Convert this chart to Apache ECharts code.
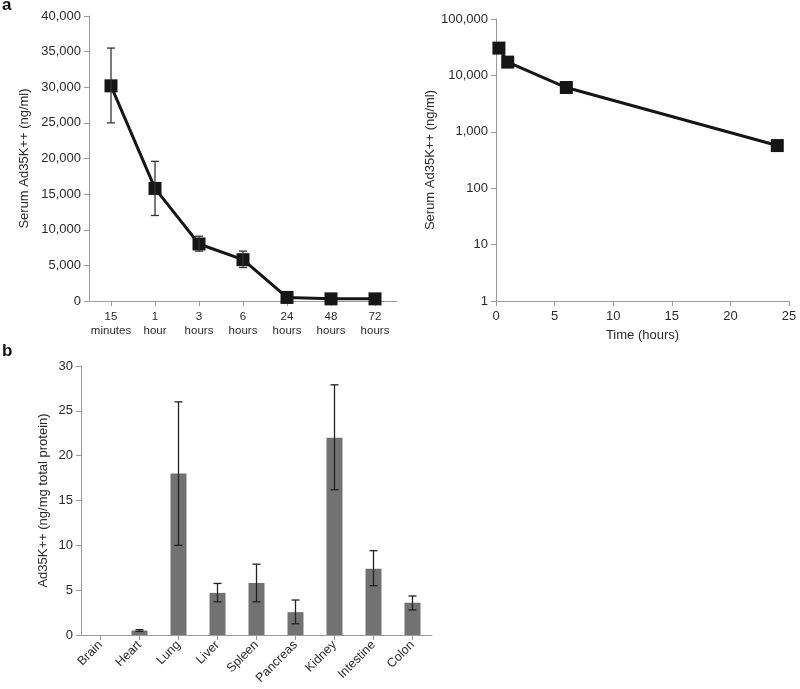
<!DOCTYPE html>
<html><head><meta charset="utf-8">
<script src="https://cdn.jsdelivr.net/npm/echarts@6/dist/echarts.min.js"></script>
<style>html,body{margin:0;padding:0;background:#fff}#c{width:800px;height:689px}</style>
</head><body><div id="c"></div>
<script>
// Panel a (left): serum concentration over time
const timeCategories = ['15\nminutes', '1\nhour', '3\nhours', '6\nhours', '24\nhours', '48\nhours', '72\nhours'];
const serumMean = [30200, 15800, 8000, 5800, 500, 300, 300];
const serumLow  = [25000, 12000, 7000, 4700, null, null, null];
const serumHigh = [35500, 19600, 9100, 7000, null, null, null];

// Panel a (right): log-scale vs hours
const hoursX = [0.25, 1, 6, 24];
const serumLogY = [30500, 17200, 6100, 570];

// Panel b: tissue distribution
const tissues = ['Brain', 'Heart', 'Lung', 'Liver', 'Spleen', 'Pancreas', 'Kidney', 'Intestine', 'Colon'];
const tissueMean = [0, 0.5, 18, 4.7, 5.8, 2.55, 22, 7.4, 3.6];
const tissueLow  = [null, 0.4, 10, 3.7, 3.7, 1.25, 16.2, 5.5, 2.8];
const tissueHigh = [null, 0.6, 26, 5.75, 7.9, 3.9, 27.9, 9.4, 4.35];

const FONT = '"Liberation Sans", Arial, sans-serif';
const TXT = '#2a2a2a';
const AX = '#9a9a9a';
function comma(v){ return String(Math.round(v)).replace(/\B(?=(\d{3})+(?!\d))/g, ','); }

function errSeries(xAxisIndex, yAxisIndex, items, cap, color){
  return {
    type: 'custom', xAxisIndex, yAxisIndex, z: 5,
    data: items,
    renderItem: function(params, api){
      const x = api.value(0), lo = api.value(1), hi = api.value(2);
      const p1 = api.coord([x, lo]), p2 = api.coord([x, hi]);
      const st = {stroke: color, lineWidth: 1.3};
      return {type: 'group', children: [
        {type: 'line', shape: {x1: p1[0], y1: p1[1], x2: p2[0], y2: p2[1]}, style: st},
        {type: 'line', shape: {x1: p1[0]-cap, y1: p1[1], x2: p1[0]+cap, y2: p1[1]}, style: st},
        {type: 'line', shape: {x1: p2[0]-cap, y1: p2[1], x2: p2[0]+cap, y2: p2[1]}, style: st}
      ]};
    }
  };
}

const errA = [];
serumLow.forEach((l, i) => { if (l !== null) errA.push([i, l, serumHigh[i]]); });
const errB = [];
tissueLow.forEach((l, i) => { if (l !== null) errB.push([i, l, tissueHigh[i]]); });

const axisLine = {show: true, lineStyle: {color: AX, width: 1}};
const axisTick = {show: true, length: 5, lineStyle: {color: AX}};
const nameStyle = {fontSize: 13, color: TXT, fontFamily: FONT};

const chart = echarts.init(document.getElementById('c'), null, {renderer: 'canvas'});
chart.setOption({
  animation: false,
  backgroundColor: '#fff',
  textStyle: {fontFamily: FONT, color: TXT},
  title: [
    {text: 'a', left: 2, top: -3, padding: 0, textStyle: {fontFamily: FONT, fontWeight: 'bold', fontSize: 17, color: '#111'}},
    {text: 'b', left: 2, top: 343, padding: 0, textStyle: {fontFamily: FONT, fontWeight: 'bold', fontSize: 17, color: '#111'}}
  ],
  grid: [
    {left: 89, top: 16, width: 308, height: 285},
    {left: 496, top: 19, width: 293, height: 282},
    {left: 81, top: 366, width: 351, height: 269}
  ],
  xAxis: [
    {gridIndex: 0, type: 'category', data: timeCategories, boundaryGap: true,
     axisLine, axisTick: Object.assign({alignWithLabel: true}, axisTick),
     axisLabel: {fontSize: 11.5, color: TXT, lineHeight: 14, margin: 9, interval: 0}},
    {gridIndex: 1, type: 'value', min: 0, max: 25, interval: 5, splitLine: {show: false},
     axisLine, axisTick, name: 'Time (hours)', nameLocation: 'middle', nameGap: 28,
     nameTextStyle: nameStyle,
     axisLabel: {fontSize: 13, color: TXT, margin: 9}},
    {gridIndex: 2, type: 'category', data: tissues, boundaryGap: true,
     axisLine, axisTick: Object.assign({alignWithLabel: true}, axisTick),
     axisLabel: {fontSize: 12.5, color: TXT, rotate: 45, margin: 8, interval: 0}}
  ],
  yAxis: [
    {gridIndex: 0, type: 'value', min: 0, max: 40000, interval: 5000, splitLine: {show: false},
     axisLine, axisTick, name: 'Serum Ad35K++ (ng/ml)', nameLocation: 'middle', nameGap: 58,
     nameTextStyle: nameStyle,
     axisLabel: {fontSize: 13, color: TXT, margin: 8, formatter: v => comma(v)}},
    {gridIndex: 1, type: 'log', logBase: 10, min: 1, max: 100000, splitLine: {show: false},
     axisLine, axisTick, name: 'Serum Ad35K++ (ng/ml)', nameLocation: 'middle', nameGap: 59,
     nameTextStyle: nameStyle,
     axisLabel: {fontSize: 13, color: TXT, margin: 8, formatter: v => comma(v)}},
    {gridIndex: 2, type: 'value', min: 0, max: 30, interval: 5, splitLine: {show: false},
     axisLine, axisTick, name: 'Ad35K++ (ng/mg total protein)', nameLocation: 'middle', nameGap: 31,
     nameTextStyle: nameStyle,
     axisLabel: {fontSize: 13, color: TXT, margin: 8}}
  ],
  series: [
    {type: 'line', xAxisIndex: 0, yAxisIndex: 0, data: serumMean, symbol: 'rect', symbolSize: 13,
     lineStyle: {color: '#161616', width: 3}, itemStyle: {color: '#161616'}, z: 4},
    errSeries(0, 0, errA, 4, '#333'),
    {type: 'line', xAxisIndex: 1, yAxisIndex: 1, data: hoursX.map((h, i) => [h, serumLogY[i]]),
     symbol: 'rect', symbolSize: 13, lineStyle: {color: '#161616', width: 3}, itemStyle: {color: '#161616'}},
    {type: 'bar', xAxisIndex: 2, yAxisIndex: 2, data: tissueMean, barWidth: 16,
     itemStyle: {color: '#727272'}},
    errSeries(2, 2, errB, 4, '#222')
  ]
});
</script></body></html>
